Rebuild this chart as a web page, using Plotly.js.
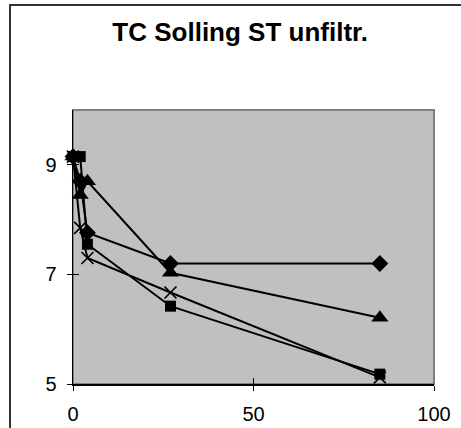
<!DOCTYPE html>
<html>
<head>
<meta charset="utf-8">
<script src="https://cdn.plot.ly/plotly-3.0.1.min.js"></script>
<style>
  html, body { margin: 0; padding: 0; background: #fff; }
  #wrap { position: relative; width: 461px; height: 428px; overflow: hidden; }
  #chart { width: 461px; height: 428px; }
  #frame { position: absolute; left: 9px; top: 4px; width: 470px; height: 440px;
           border-left: 2px solid #333; border-top: 2px solid #333; pointer-events: none; }
</style>
</head>
<body>
<div id="wrap">
  <div id="chart"></div>
  <div id="frame"></div>
</div>
<script>
// Data
const titleText = "TC Solling ST unfiltr.";
const xDays = [0, 2, 4, 27, 85];
const seriesDiamond  = [9.15, 8.70, 7.76, 7.20, 7.20];
const seriesSquare   = [9.15, 9.15, 7.55, 6.42, 5.18];
const seriesTriangle = [9.15, 8.45, 8.70, 7.03, 6.21];
const seriesCross    = [9.15, 7.85, 7.30, 6.67, 5.12];
const xTickVals = [0, 50, 100];
const yTickVals = [5, 7, 9];

const lineStyle = {color: '#000', width: 2};
function trace(y, symbol, size, lw) {
  return {
    type: 'scatter', mode: 'lines+markers', x: xDays, y: y,
    line: lineStyle,
    marker: {symbol: symbol, size: size, color: '#000', line: {color: '#000', width: lw || 0}},
    showlegend: false, hoverinfo: 'skip', cliponaxis: false
  };
}

const data = [
  trace(seriesDiamond, 'diamond', 13),
  trace(seriesSquare, 'square', 11),
  trace(seriesTriangle, 'triangle-up', 15),
  trace(seriesCross, 'x-thin', 12, 1.6)
];

const tickFont = {family: 'Liberation Sans, Arial, sans-serif', size: 20, color: '#000'};

const layout = {
  width: 461, height: 428,
  margin: {l: 73, r: 27, t: 110, b: 44, pad: 0},
  paper_bgcolor: '#fff',
  plot_bgcolor: '#C0C0C0',
  title: {
    text: '<b>' + titleText + '</b>',
    font: {family: 'Liberation Sans, Arial, sans-serif', size: 26, color: '#000'},
    x: 0.521, xanchor: 'center', y: 0.925, yanchor: 'middle', xref: 'container', yref: 'container'
  },
  xaxis: {
    range: [0, 100], tickvals: xTickVals, ticks: 'outside', ticklen: 5, tickwidth: 1, tickcolor: '#000',
    showline: true, linecolor: '#000', linewidth: 1.5, showgrid: false, zeroline: false,
    tickfont: tickFont, ticklabelstandoff: 6, fixedrange: true
  },
  yaxis: {
    range: [5, 10], tickvals: yTickVals, ticks: 'outside', ticklen: 5, tickwidth: 1, tickcolor: '#000',
    showline: true, linecolor: '#000', linewidth: 1.5, showgrid: false, zeroline: false,
    tickfont: tickFont, ticklabelstandoff: 6, fixedrange: true
  },
  xaxis2: {
    overlaying: 'x', range: [0, 100], tickvals: xTickVals, ticks: 'inside', ticklen: 6, tickwidth: 1,
    tickcolor: '#000', showticklabels: false, showgrid: false, zeroline: false, side: 'bottom', anchor: 'y'
  },
  yaxis2: {
    overlaying: 'y', range: [5, 10], tickvals: yTickVals, ticks: 'inside', ticklen: 6, tickwidth: 1,
    tickcolor: '#000', showticklabels: false, showgrid: false, zeroline: false, side: 'left', anchor: 'x'
  },
  shapes: [{
    type: 'rect', xref: 'paper', yref: 'paper', x0: 0, x1: 1, y0: 0, y1: 1,
    line: {color: '#808080', width: 2}, fillcolor: 'rgba(0,0,0,0)', layer: 'below'
  }]
};

// invisible helper trace so the inside-tick axes are drawn
data.push({type: 'scatter', x: [null], y: [null], xaxis: 'x2', yaxis: 'y2', showlegend: false, hoverinfo: 'skip'});

Plotly.newPlot('chart', data, layout, {staticPlot: true, displayModeBar: false});
</script>
</body>
</html>
